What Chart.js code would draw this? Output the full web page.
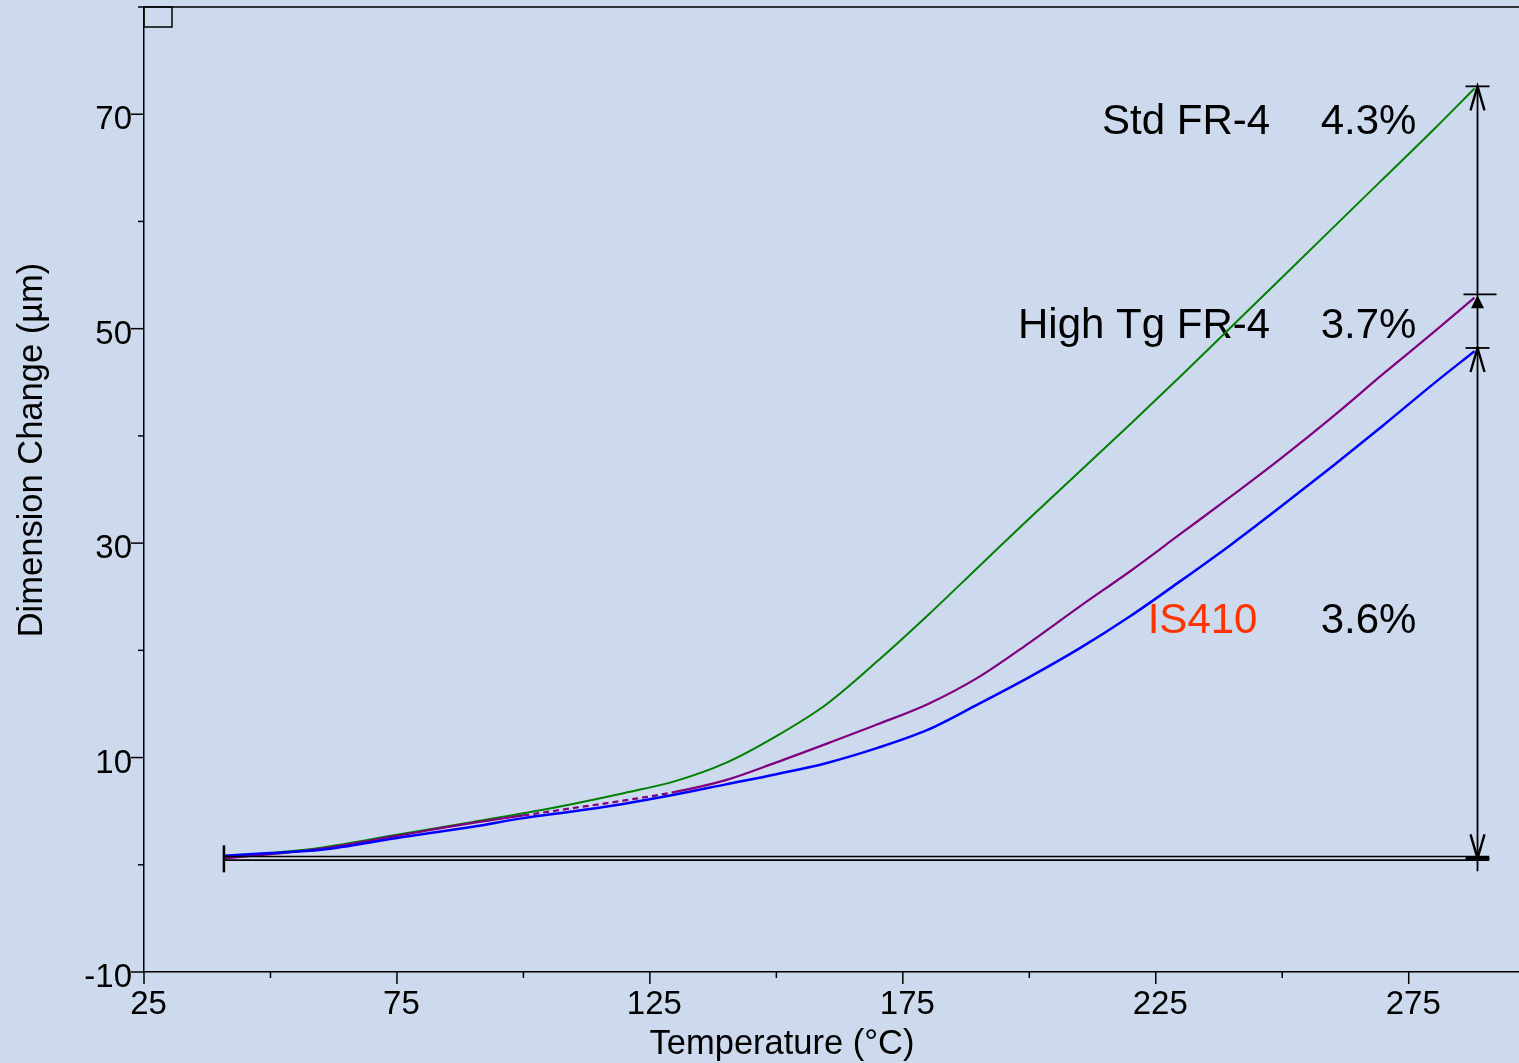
<!DOCTYPE html>
<html>
<head>
<meta charset="utf-8">
<title>Dimension Change vs Temperature</title>
<script src="https://cdn.jsdelivr.net/npm/chart.js@4.4.1/dist/chart.umd.min.js"></script>
<style>
  html, body { margin: 0; padding: 0; background: #cdd9ec; }
  canvas { display: block; }
</style>
</head>
<body>
<canvas id="tma" width="1519" height="1063"></canvas>
<script>
// TMA curves: dimension change (µm) against temperature (°C)
const temps = [41, 50, 60, 75, 90, 100, 110, 120, 130, 140, 150, 160, 170, 180, 190, 200, 210, 220, 230, 240, 250, 260, 270, 280, 288];
const stdFr4 = [0.7, 1.1, 1.6, 2.8, 4.0, 4.8, 5.7, 6.7, 7.8, 9.5, 12.0, 15.0, 19.0, 23.3, 27.8, 32.3, 36.7, 41.1, 45.6, 50.2, 54.8, 59.4, 64.0, 68.6, 72.4];
const highTgFr4 = [0.6, 1.0, 1.5, 2.7, 3.9, 4.6, 5.3, 6.0, 6.8, 7.9, 9.55, 11.3, 13.1, 15.0, 17.5, 20.7, 24.1, 27.4, 30.9, 34.4, 38.0, 41.8, 45.8, 49.7, 52.9];
const is410 = [0.85, 1.1, 1.4, 2.5, 3.55, 4.35, 5.0, 5.7, 6.55, 7.5, 8.45, 9.5, 10.9, 12.6, 15.0, 17.5, 20.2, 23.2, 26.5, 29.9, 33.5, 37.2, 41.0, 44.9, 47.9];

const xTickValues = [25, 50, 75, 100, 125, 150, 175, 200, 225, 250, 275];
const xTickLabels = [25, 75, 125, 175, 225, 275];
const yTickValues = [-10, 0, 10, 20, 30, 40, 50, 60, 70, 80];
const yTickLabels = [-10, 10, 30, 50, 70];

// expansion measurement markers
const markerTemp = 288.6;
const markerLevels = [72.6, 53.2, 48.2];
const baseLevel = 0.6;
const baseFrom = 40.8;
const baseTo = 290.9;

const notes = [
  { name: 'Std FR-4', pct: '4.3%', color: '#000000', nameT: 247.6, v: 68.15 },
  { name: 'High Tg FR-4', pct: '3.7%', color: '#000000', nameT: 247.6, v: 49.1 },
  { name: 'IS410', pct: '3.6%', color: '#ff3300', nameT: 245.1, v: 21.6 }
];
const pctT = 257.6;

const xTitle = 'Temperature (°C)';
const yTitle = 'Dimension Change (µm)';

const FONT = "'Liberation Sans', Arial, sans-serif";
Chart.defaults.font.family = FONT;
Chart.defaults.color = '#000';

function toPoints(values) {
  return temps.map((t, i) => ({ x: t, y: values[i] }));
}

const notesPlugin = {
  id: 'notes',
  beforeDatasetsDraw(chart) {
    const { ctx, scales: { x, y } } = chart;
    ctx.save();
    ctx.font = '42px ' + FONT;
    ctx.textBaseline = 'alphabetic';
    notes.forEach(n => {
      ctx.fillStyle = n.color;
      ctx.textAlign = 'right';
      ctx.fillText(n.name, x.getPixelForValue(n.nameT), y.getPixelForValue(n.v));
      ctx.fillStyle = '#000';
      ctx.textAlign = 'left';
      ctx.fillText(n.pct, x.getPixelForValue(pctT), y.getPixelForValue(n.v));
    });
    ctx.restore();
  }
};

function openHead(ctx, px, py, dir) {
  ctx.beginPath();
  ctx.moveTo(px - 7, py + dir * 24);
  ctx.lineTo(px, py);
  ctx.lineTo(px + 7, py + dir * 24);
  ctx.stroke();
}

const decorPlugin = {
  id: 'decor',
  afterDraw(chart) {
    const { ctx, chartArea: area, scales: { x, y } } = chart;
    ctx.save();
    ctx.strokeStyle = '#000';
    ctx.fillStyle = '#000';

    // axis titles (off-centre in the original)
    ctx.font = '34.5px ' + FONT;
    ctx.textAlign = 'center';
    ctx.textBaseline = 'alphabetic';
    ctx.fillText(xTitle, 782, 1054);
    ctx.save();
    ctx.translate(42, 450);
    ctx.rotate(-Math.PI / 2);
    ctx.fillText(yTitle, 0, 0);
    ctx.restore();

    // tick marks
    ctx.lineWidth = 1.5;
    xTickValues.forEach(v => {
      const px = x.getPixelForValue(v);
      const len = xTickLabels.includes(v) ? 12 : 6;
      ctx.beginPath();
      ctx.moveTo(px, area.bottom);
      ctx.lineTo(px, area.bottom + len);
      ctx.stroke();
    });
    yTickValues.forEach(v => {
      const py = y.getPixelForValue(v);
      const len = yTickLabels.includes(v) ? 13 : 6;
      ctx.beginPath();
      ctx.moveTo(area.left - len, py);
      ctx.lineTo(area.left, py);
      ctx.stroke();
    });

    // top frame line and small corner box
    ctx.beginPath();
    ctx.moveTo(area.left, area.top);
    ctx.lineTo(area.right, area.top);
    ctx.stroke();
    ctx.strokeRect(area.left, area.top, 28, 20);

    // baseline (double line)
    const b0 = x.getPixelForValue(baseFrom);
    const b1 = x.getPixelForValue(baseTo);
    const by = y.getPixelForValue(baseLevel);
    ctx.lineWidth = 1.6;
    [-1.8, 1.8].forEach(off => {
      ctx.beginPath();
      ctx.moveTo(b0, by + off);
      ctx.lineTo(b1, by + off);
      ctx.stroke();
    });
    ctx.lineWidth = 2.5;
    ctx.beginPath();
    ctx.moveTo(b0, by - 13);
    ctx.lineTo(b0, by + 14);
    ctx.stroke();

    // vertical measuring line
    const mx = x.getPixelForValue(markerTemp);
    const topY = y.getPixelForValue(markerLevels[0]);
    const midY = y.getPixelForValue(markerLevels[1]);
    const lowY = y.getPixelForValue(markerLevels[2]);
    ctx.lineWidth = 1.8;
    ctx.beginPath();
    ctx.moveTo(mx, topY);
    ctx.lineTo(mx, by + 13);
    ctx.stroke();

    // caps
    [[topY, 12, 12], [midY, 14, 19], [lowY, 12, 12]].forEach(([cy, l, r]) => {
      ctx.beginPath();
      ctx.moveTo(mx - l, cy);
      ctx.lineTo(mx + r, cy);
      ctx.stroke();
    });
    ctx.lineWidth = 3;
    ctx.beginPath();
    ctx.moveTo(mx - 12, by);
    ctx.lineTo(mx + 12, by);
    ctx.stroke();

    // arrow heads
    ctx.lineWidth = 2.4;
    openHead(ctx, mx, topY, 1);
    openHead(ctx, mx, lowY, 1);
    openHead(ctx, mx, by, -1);
    ctx.beginPath();
    ctx.moveTo(mx, midY + 1);
    ctx.lineTo(mx - 6.5, midY + 14);
    ctx.lineTo(mx + 6.5, midY + 14);
    ctx.closePath();
    ctx.fill();

    ctx.restore();
  }
};

new Chart(document.getElementById('tma'), {
  type: 'line',
  data: {
    datasets: [
      {
        label: 'Std FR-4',
        data: toPoints(stdFr4),
        borderColor: '#008000',
        borderWidth: 2,
        order: 2
      },
      {
        label: 'High Tg FR-4',
        data: toPoints(highTgFr4),
        borderColor: '#800080',
        borderWidth: 2.2,
        order: 1,
        segment: {
          borderDash: ctx => (ctx.p0.parsed.x >= 100 && ctx.p1.parsed.x <= 130) ? [6, 4] : undefined
        }
      },
      {
        label: 'IS410',
        data: toPoints(is410),
        borderColor: '#0000ff',
        borderWidth: 2.5,
        order: 0
      }
    ]
  },
  options: {
    responsive: false,
    animation: false,
    devicePixelRatio: 1,
    layout: { padding: { top: 7, right: 0, left: 0, bottom: 0 } },
    elements: {
      point: { radius: 0 },
      line: { cubicInterpolationMode: 'monotone', fill: false }
    },
    plugins: {
      legend: { display: false },
      tooltip: { enabled: false }
    },
    scales: {
      x: {
        type: 'linear',
        min: 25,
        max: 296.8,
        afterBuildTicks: s => { s.ticks = xTickValues.map(v => ({ value: v })); },
        afterFit: s => {
          s.height = 91;
          s.paddingLeft = 0;
          s.paddingRight = 0;
        },
        grid: { display: false, drawTicks: false },
        border: { display: true, color: '#000', width: 1.5 },
        ticks: {
          autoSkip: false,
          maxRotation: 0,
          padding: 13,
          labelOffset: 4.5,
          font: { size: 33 },
          color: '#000',
          callback: v => xTickLabels.includes(v) ? String(v) : ''
        },
        title: { display: false }
      },
      y: {
        type: 'linear',
        min: -10,
        max: 80,
        afterBuildTicks: s => { s.ticks = yTickValues.map(v => ({ value: v })); },
        afterFit: s => {
          s.width = 144;
          s.paddingTop = 0;
          s.paddingBottom = 0;
        },
        grid: { display: false, drawTicks: false },
        border: { display: true, color: '#000', width: 1.5 },
        ticks: {
          autoSkip: false,
          padding: 12,
          labelOffset: 6,
          font: { size: 33 },
          color: '#000',
          callback: v => yTickLabels.includes(v) ? String(v) : ''
        },
        title: { display: false }
      }
    }
  },
  plugins: [notesPlugin, decorPlugin]
});
</script>
</body>
</html>
